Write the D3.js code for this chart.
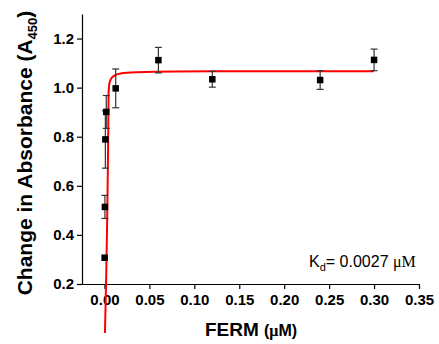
<!DOCTYPE html>
<html>
<head>
<meta charset="utf-8">
<script src="https://cdn.jsdelivr.net/npm/d3@7"></script>
<style>
  body { margin: 0; background: #fff; }
  svg text { font-family: "Liberation Sans", Arial, sans-serif; }
  .axis text { font-weight: bold; font-size: 15px; fill: #000; }
  .axis path, .axis line { stroke: #000; stroke-width: 1.2; }
</style>
</head>
<body>
<div id="chart"></div>
<script>
// FERM concentration (uM), absorbance change and error
const conc = [0.0002, 0.0005, 0.001, 0.002, 0.0125, 0.06, 0.12, 0.24, 0.30]
const absorb = [0.307, 0.514, 0.789, 0.901, 0.997, 1.112, 1.034, 1.031, 1.113]
const errs = [0, 0.047, 0.117, 0.067, 0.079, 0.052, 0.032, 0.038, 0.044]

// fitted curve
const fitX = [0.0005, 0.0040, 0.0046, 0.0055, 0.0075, 0.011, 0.018, 0.035, 0.08, 0.30]
const fitY = [0.0, 0.75, 0.98, 1.018, 1.037, 1.049, 1.058, 1.063, 1.066, 1.067]

const xTicks = [0, 0.05, 0.10, 0.15, 0.20, 0.25, 0.30, 0.35]
const yTicks = [0.2, 0.4, 0.6, 0.8, 1.0, 1.2]

const margin = { top: 14, right: 20, bottom: 60, left: 82 }
const width = 439 - margin.left - margin.right
const height = 344 - margin.top - margin.bottom

const svg = d3.select("#chart").append("svg")
    .attr("width", 439)
    .attr("height", 344)

const g = svg.append("g")
    .attr("transform", "translate(" + margin.left + "," + margin.top + ")")

const x = d3.scaleLinear().domain([-0.025, 0.35]).range([0, 337])
const y = d3.scaleLinear().domain([0.2, 1.3]).range([270, 0])

g.append("g")
  .attr("class", "axis y-axis")
  .call(d3.axisLeft(y).tickValues(yTicks).tickFormat(d3.format(".1f"))
    .tickSize(5).tickSizeOuter(0).tickPadding(3))

g.append("g")
  .attr("class", "axis x-axis")
  .attr("transform", "translate(0,270)")
  .call(d3.axisBottom(x).tickValues(xTicks).tickFormat(d3.format(".2f"))
    .tickSize(5).tickSizeOuter(0).tickPadding(5))

// fit line
const fit = fitX.map((d, i) => [d, fitY[i]])
g.append("path")
  .datum(fit)
  .attr("fill", "none")
  .attr("stroke", "#ff0000")
  .attr("stroke-width", 2)
  .attr("d", d3.line().x(d => x(d[0])).y(d => y(d[1])).curve(d3.curveMonotoneX))

const points = conc.map((d, i) => ({ x: d, y: absorb[i], e: errs[i] }))

// error bars
const eb = g.selectAll(".err")
  .data(points.filter(d => d.e > 0))
  .join("g")
  .attr("class", "err")
  .attr("stroke", "#333")
  .attr("stroke-width", 1.2)
eb.append("line")
  .attr("x1", d => x(d.x)).attr("x2", d => x(d.x))
  .attr("y1", d => y(d.y - d.e)).attr("y2", d => y(d.y + d.e))
eb.append("line")
  .attr("x1", d => x(d.x) - 3.5).attr("x2", d => x(d.x) + 3.5)
  .attr("y1", d => y(d.y + d.e)).attr("y2", d => y(d.y + d.e))
eb.append("line")
  .attr("x1", d => x(d.x) - 3.5).attr("x2", d => x(d.x) + 3.5)
  .attr("y1", d => y(d.y - d.e)).attr("y2", d => y(d.y - d.e))

g.selectAll("rect.pt")
  .data(points)
  .join("rect")
  .attr("class", "pt")
  .attr("x", d => x(d.x) - 3.25)
  .attr("y", d => y(d.y) - 3.25)
  .attr("width", 6.5)
  .attr("height", 6.5)
  .attr("fill", "#000")

// axis titles
const xt = svg.append("text")
  .attr("x", 251)
  .attr("y", 336)
  .attr("text-anchor", "middle")
  .attr("font-weight", "bold")
  .attr("font-size", 19)
xt.append("tspan").text("FERM ")
xt.append("tspan").attr("font-size", 16).text("(")
xt.append("tspan").attr("font-size", 16).attr("font-family", "Liberation Serif").text("μ")
xt.append("tspan").attr("font-size", 16).text("M)")

const yt = svg.append("text")
  .attr("transform", "translate(32,153) rotate(-90)")
  .attr("text-anchor", "middle")
  .attr("font-weight", "bold")
  .attr("font-size", 21)
yt.append("tspan").text("Change in Absorbance (A")
yt.append("tspan").attr("font-size", 13).attr("dy", 5).text("450")
yt.append("tspan").attr("dy", -5).text(")")

// Kd label
const kd = svg.append("text")
  .attr("x", 309)
  .attr("y", 267)
  .attr("font-size", 16)
kd.append("tspan").text("K")
kd.append("tspan").attr("font-size", 11).attr("dy", 4).text("d")
kd.append("tspan").attr("dy", -4).text("= 0.0027 ")
kd.append("tspan").attr("font-family", "Liberation Serif").text("μM")
</script>
</body>
</html>
